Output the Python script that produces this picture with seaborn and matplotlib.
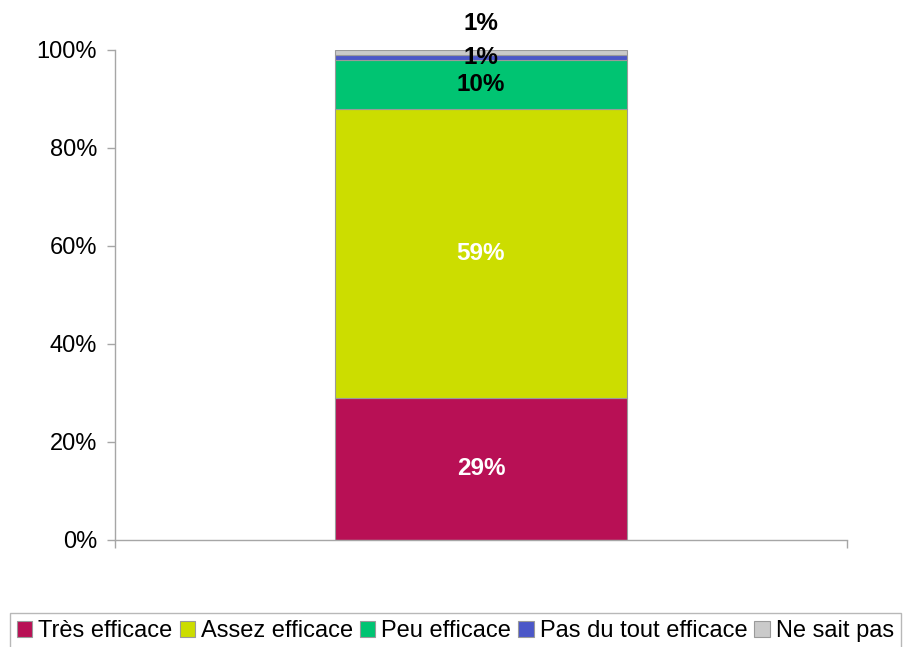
import numpy as np
import pandas as pd
import matplotlib
matplotlib.use("Agg")
import matplotlib.pyplot as plt
import seaborn as sns
from matplotlib.patches import Patch

categories = ["Très efficace", "Assez efficace", "Peu efficace", "Pas du tout efficace", "Ne sait pas"]
values = [29, 59, 10, 1, 1]
colors = ["#B81055", "#CCDD00", "#00C472", "#4B57C8", "#CACACA"]
label_colors = ["white", "white", "black", "black", "black"]
group = ["all"]

sns.set_theme(style="white")
plt.rcParams["font.family"] = ["Liberation Sans", "DejaVu Sans"]

fig = plt.figure(figsize=(9.15, 6.47), dpi=100)
ax = fig.add_axes([115 / 915, 1 - 540 / 647, 732 / 915, 490 / 647])

bottoms = np.concatenate([[0], np.cumsum(values)[:-1]])
for cat, val, bot, col in zip(categories, values, bottoms, colors):
    df = pd.DataFrame({"g": group, "v": [val]})
    sns.barplot(data=df, x="g", y="v", bottom=bot, color=col, width=0.4,
                saturation=1, edgecolor="#9a9a9a", linewidth=0.8, ax=ax)

# value labels
for i, (val, bot, lc) in enumerate(zip(values, bottoms, label_colors)):
    y = bot + val / 2
    dy = 0
    if i == len(values) - 1:
        dy = 21  # last label sits above the bar
    ax.annotate(f"{val}%", (0, y), xytext=(0, dy), textcoords="offset points",
                ha="center", va="center", fontsize=17.5, fontweight="bold",
                color=lc, annotation_clip=False)

ax.set_xlim(-0.5, 0.5)
ax.set_ylim(0, 100)
ax.set_yticks(np.arange(0, 101, 20))
ax.set_yticklabels([f"{t}%" for t in range(0, 101, 20)], fontsize=17)
ax.set_xticks([-0.5, 0.5])
ax.set_xticklabels([])
ax.set_xlabel("")
ax.set_ylabel("")
for side in ["top", "right"]:
    ax.spines[side].set_visible(False)
for side in ["left", "bottom"]:
    ax.spines[side].set_color("#a6a6a6")
    ax.spines[side].set_linewidth(1.0)
ax.tick_params(axis="both", direction="out", length=6, width=1.0, color="#a6a6a6",
               left=True, bottom=True, pad=7, labelcolor="black")

handles = [Patch(facecolor=c, edgecolor="#9a9a9a", linewidth=0.8) for c in colors]
leg = fig.legend(handles, categories, loc="upper left",
                 bbox_to_anchor=(10 / 915, 1 - 613 / 647), ncol=5, fontsize=17,
                 frameon=True, fancybox=False, handlelength=0.65, handleheight=0.65,
                 handletextpad=0.25, columnspacing=0.3, borderpad=0.3,
                 borderaxespad=0, labelcolor="black")
leg.get_frame().set_edgecolor("#a6a6a6")
leg.get_frame().set_linewidth(1.0)

fig.savefig("out.png", dpi=100)
